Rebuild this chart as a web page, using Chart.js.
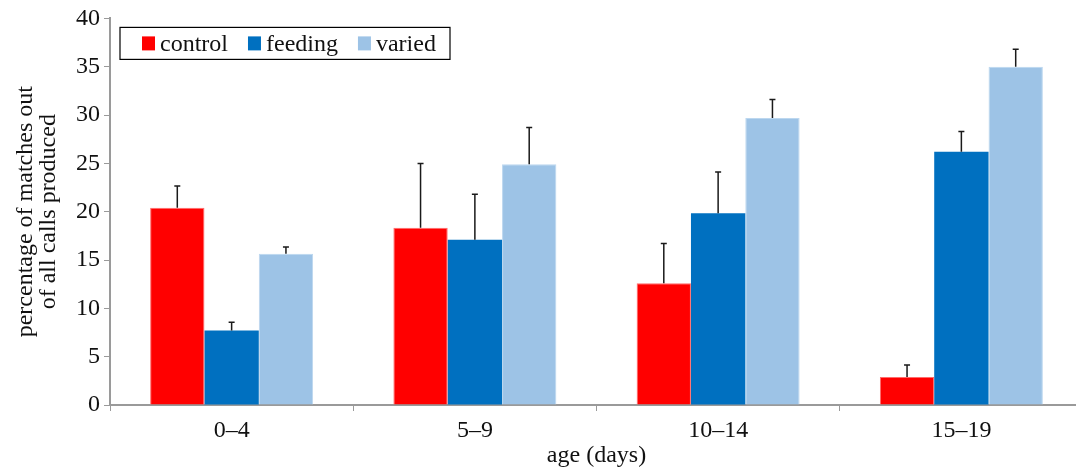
<!DOCTYPE html>
<html>
<head>
<meta charset="utf-8">
<script src="https://cdn.jsdelivr.net/npm/chart.js@4.4.0/dist/chart.umd.min.js"></script>
<style>
    html, body { margin: 0; padding: 0; background: #fff; overflow: hidden; }
    #wrap { width: 1090px; height: 470px; position: relative; }
</style>
</head>
<body>
<div id="wrap"><canvas id="callsChart"></canvas></div>
<script>
        // Data
        const ageGroups = ['0–4', '5–9', '10–14', '15–19'];
        const controlValues = [20.4, 18.35, 12.6, 2.9];
        const feedingValues = [7.7, 17.1, 19.85, 26.2];
        const variedValues = [15.65, 24.9, 29.7, 35.0];
        // upper error bar lengths
        const controlErrors = [2.25, 6.65, 4.1, 1.25];
        const feedingErrors = [0.85, 4.7, 4.25, 2.1];
        const variedErrors = [0.7, 3.8, 1.9, 1.8];
        const yTicks = [0, 5, 10, 15, 20, 25, 30, 35, 40];

        const serif = "'Liberation Serif', 'DejaVu Serif', serif";

        // Upward-only error bars
        const errorBars = {
            id: 'errorBars',
            afterDatasetsDraw(chart) {
                const ctx = chart.ctx;
                const y = chart.scales.y;
                chart.data.datasets.forEach((ds, i) => {
                    const meta = chart.getDatasetMeta(i);
                    meta.data.forEach((bar, j) => {
                        const top = y.getPixelForValue(ds.data[j] + ds.errors[j]);
                        ctx.save();
                        ctx.strokeStyle = '#1a1a1a';
                        ctx.lineWidth = 1.5;
                        ctx.beginPath();
                        ctx.moveTo(bar.x, bar.y);
                        ctx.lineTo(bar.x, top);
                        ctx.moveTo(bar.x - 3, top);
                        ctx.lineTo(bar.x + 3, top);
                        ctx.stroke();
                        ctx.restore();
                    });
                });
            }
        };

        // Boxed legend inside the plot area
        const boxLegend = {
            id: 'boxLegend',
            afterDraw(chart) {
                const ctx = chart.ctx;
                const area = chart.chartArea;
                const x0 = area.left + 10, y0 = area.top + 9;
                const w = 330, h = 32;
                ctx.save();
                ctx.fillStyle = '#fff';
                ctx.fillRect(x0, y0, w, h);
                ctx.strokeStyle = '#000';
                ctx.lineWidth = 1.2;
                ctx.strokeRect(x0, y0, w, h);
                ctx.font = '24px ' + serif;
                ctx.textBaseline = 'middle';
                let x = x0 + 22;
                chart.data.datasets.forEach(ds => {
                    ctx.fillStyle = ds.backgroundColor;
                    ctx.fillRect(x, y0 + h / 2 - 7, 13, 14);
                    ctx.fillStyle = '#111';
                    ctx.fillText(ds.label, x + 18, y0 + h / 2 + 1);
                    x += 18 + ctx.measureText(ds.label).width + 20;
                });
                ctx.restore();
            }
        };

        const ctx = document.getElementById('callsChart').getContext('2d');
        new Chart(ctx, {
            type: 'bar',
            data: {
                labels: ageGroups,
                datasets: [
                    {
                        label: 'control',
                        data: controlValues,
                        errors: controlErrors,
                        backgroundColor: '#ff0000',
                        borderColor: '#ff6b6b',
                        borderWidth: 1
                    },
                    {
                        label: 'feeding',
                        data: feedingValues,
                        errors: feedingErrors,
                        backgroundColor: '#0070c0',
                        borderColor: '#0070c0',
                        borderWidth: 0
                    },
                    {
                        label: 'varied',
                        data: variedValues,
                        errors: variedErrors,
                        backgroundColor: '#9dc3e6',
                        borderColor: '#bcd7ef',
                        borderWidth: 1
                    }
                ]
            },
            options: {
                responsive: true,
                maintainAspectRatio: false,
                animation: false,
                layout: {
                    padding: { top: 18, right: 7, left: 14, bottom: 0 }
                },
                datasets: {
                    bar: {
                        categoryPercentage: 0.67,
                        barPercentage: 1.0
                    }
                },
                plugins: {
                    legend: { display: false },
                    tooltip: { enabled: false }
                },
                scales: {
                    x: {
                        grid: {
                            offset: true,
                            drawOnChartArea: false,
                            drawTicks: true,
                            tickLength: 6,
                            color: '#9a9a9a'
                        },
                        border: { color: '#9a9a9a', width: 2 },
                        ticks: {
                            color: '#111',
                            font: { family: serif, size: 24 },
                            padding: 5
                        },
                        title: {
                            display: true,
                            text: 'age (days)',
                            color: '#111',
                            font: { family: serif, size: 24 },
                            padding: { top: 0, bottom: 0 }
                        },
                        afterFit(scale) { scale.height = 65; }
                    },
                    y: {
                        min: 0,
                        max: 40,
                        afterBuildTicks(scale) {
                            scale.ticks = yTicks.map(v => ({ value: v }));
                        },
                        grid: {
                            drawOnChartArea: false,
                            drawTicks: true,
                            tickLength: 6,
                            color: '#9a9a9a'
                        },
                        border: { color: '#9a9a9a', width: 2 },
                        ticks: {
                            color: '#111',
                            font: { family: serif, size: 24 },
                            padding: 4
                        },
                        title: {
                            display: true,
                            text: ['percentage of matches out', 'of all calls produced'],
                            color: '#111',
                            font: { family: serif, size: 24, lineHeight: 0.97 },
                            padding: { top: 0, bottom: 6 }
                        },
                        afterFit(scale) { scale.width = 96; }
                    }
                }
            },
            plugins: [errorBars, boxLegend]
        });
</script>
</body>
</html>
